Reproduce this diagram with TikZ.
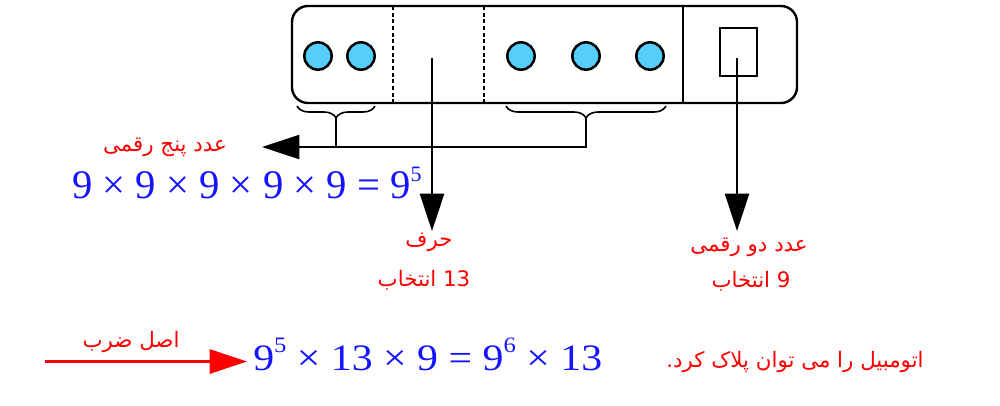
\documentclass[tikz,border=0pt]{standalone}
\usepackage{fontspec}
\usepackage{graphicx}
\usetikzlibrary{arrows.meta,decorations.pathreplacing}
\TeXXeTstate=1
\newfontfamily\fa[Script=Arabic]{DejaVu Sans}
\newfontfamily\tms{Liberation Serif}
\definecolor{cblue}{RGB}{85,206,250}
\definecolor{mblue}{RGB}{20,20,255}
\newcommand{\supr}[2]{\raisebox{#1}{\fontsize{16.5}{16.5}\selectfont #2}}
\begin{document}
\begin{tikzpicture}[x=0.75pt,y=-0.75pt,
  ln/.style={line width=1.8pt},
  arr/.style={ln,-{Triangle[length=28pt,width=18pt]}},
  redarr/.style={red,line width=2.4pt,-{Triangle[length=28pt,width=18pt]}},
  dot/.style={circle,draw,line width=1.9pt,fill=cblue,minimum size=20.5pt,inner sep=0pt},
  fatxt/.style={text=red,font=\fa\fontsize{16}{18}\selectfont,inner sep=0pt},
  eq/.style={text=mblue,inner sep=0pt},
  brc/.style={line width=1.2pt,decorate,decoration={brace,amplitude=9pt}}
]
\useasboundingbox (0,0) rectangle (1000,405);
% plate
\draw[ln,rounded corners=12pt] (292,6) rectangle (797,103);
\draw[line width=1.4pt,dash pattern=on 3pt off 2pt] (393,6) -- (393,103);
\draw[line width=1.4pt,dash pattern=on 3pt off 2pt] (484,6) -- (484,103);
\draw[ln] (683,6) -- (683,103);
\draw[ln] (720,28) rectangle (757,76);
\node[dot] (c1) at (318,56) {};
\node[dot] (c2) at (361,56) {};
\node[dot] (c3) at (521,56) {};
\node[dot] (c4) at (586,56) {};
\node[dot] (c5) at (650,56) {};
% braces
\coordinate (b1) at (336,118);
\coordinate (b2) at (586,118);
\draw[brc] (375,106) -- (297,106);
\draw[brc] (666,106) -- (506,106);
\coordinate (j1) at (336,147);
\coordinate (j2) at (586,147);
\coordinate (lt) at (262,147);
\draw[ln] (b1) -- (j1);
\draw[arr] (b2) -- (j2) -- (lt);
% vertical arrows
\coordinate (m0) at (432,58);
\coordinate (m1) at (432,231);
\coordinate (s0) at (737,58);
\coordinate (s1) at (737,231);
\draw[arr] (m0) -- (m1);
\draw[arr] (s0) -- (s1);
% texts
\node[fatxt] (t1) at (165,147) {\beginR عدد پنج رقمی\endR};
\node[fatxt] (t2) at (429,242) {\beginR حرف\endR};
\node[fatxt] (t3) at (424,280) {\beginR \beginL 13\endL{} انتخاب\endR};
\node[fatxt] (t4) at (749,247.5) {\beginR عدد دو رقمی\endR};
\node[fatxt] (t5) at (751,281) {\beginR \beginL 9\endL{} انتخاب\endR};
\node[eq,anchor=base west] (e1) at (72,198.5) {\tms\fontsize{30.5}{30}\selectfont 9 × 9 × 9 × 9 × 9 = 9\supr{13pt}{5}};
% bottom
\coordinate (r0) at (45,361.5);
\coordinate (r1) at (247,361.5);
\draw[redarr] (r0) -- (r1);
\node[fatxt] (t6) at (131,342) {\beginR اصل ضرب\endR};
\node[eq,anchor=base west] (e2) at (253,370) {\tms\fontsize{28}{28}\selectfont\scalebox{1.12}[1]{9\supr{13.5pt}{5} × 13 × 9 = 9\supr{13.5pt}{6} × 13}};
\node[fatxt] (t7) at (795,362) {\beginR اتومبیل را می توان پلاک کرد.\endR};
\end{tikzpicture}
\end{document}
